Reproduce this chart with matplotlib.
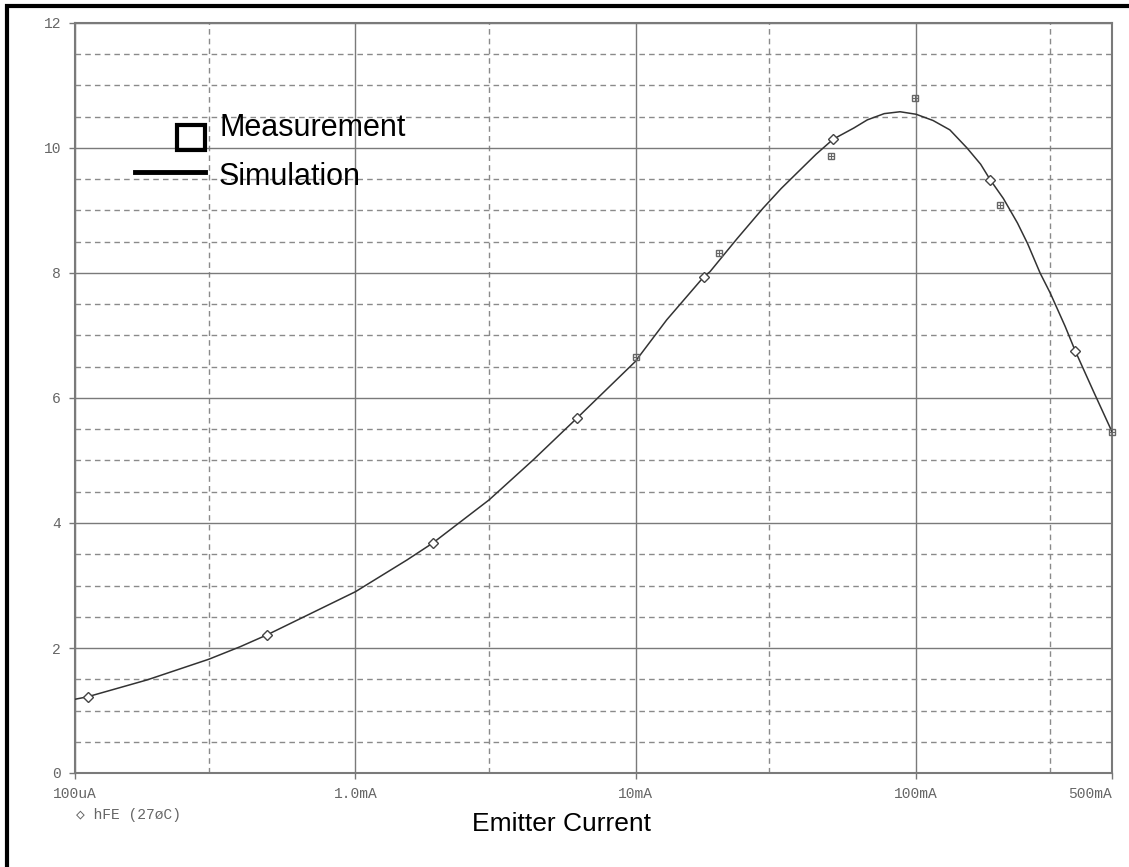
"""hFE vs emitter current: measurement vs simulation."""
import matplotlib
matplotlib.use("Agg")
import matplotlib.pyplot as plt
from matplotlib.patches import Rectangle
from matplotlib.lines import Line2D

# simulated curve (A, hFE)
sim_current = [1.0e-4, 1.11e-4, 1.81e-4, 3.0e-4, 3.88e-4, 4.84e-4, 1.0e-3, 1.53e-3,
               1.89e-3, 3.0e-3, 4.31e-3, 6.18e-3, 9.95e-3, 12.9e-3, 17.5e-3, 18.4e-3,
               23e-3, 28.5e-3, 33e-3, 38.6e-3, 44e-3, 50.6e-3, 60e-3, 67e-3, 77e-3,
               87.7e-3, 100e-3, 115e-3, 132e-3, 152e-3, 170e-3, 184e-3, 205e-3,
               230e-3, 250e-3, 277e-3, 301e-3, 340e-3, 370e-3, 430e-3, 500e-3]
sim_hfe = [1.18, 1.22, 1.49, 1.82, 2.02, 2.21, 2.90, 3.41,
           3.68, 4.37, 5.01, 5.68, 6.58, 7.25, 7.94, 8.02,
           8.55, 9.04, 9.35, 9.65, 9.90, 10.14, 10.32, 10.45, 10.55,
           10.58, 10.54, 10.44, 10.29, 10.0, 9.74, 9.49, 9.19,
           8.80, 8.47, 8.0, 7.68, 7.15, 6.75, 6.10, 5.46]

# diamond markers on the simulated trace
mark_current = [1.11e-4, 4.84e-4, 1.89e-3, 6.18e-3, 17.5e-3, 50.6e-3, 184e-3, 370e-3]
mark_hfe = [1.22, 2.21, 3.68, 5.68, 7.94, 10.14, 9.49, 6.75]

# measured points
meas_current = [10.0e-3, 19.9e-3, 49.8e-3, 99e-3, 200e-3, 500e-3]
meas_hfe = [6.66, 8.32, 9.87, 10.8, 9.09, 5.46]

x_major = [1e-4, 1e-3, 1e-2, 1e-1, 5e-1]
x_labels = ["100uA", "1.0mA", "10mA", "100mA", "500mA"]
x_minor = [3e-4, 3e-3, 3e-2, 3e-1]
y_major = [0, 2, 4, 6, 8, 10, 12]

W, H = 1129, 867
fig = plt.figure(figsize=(W / 100, H / 100), dpi=100)
ax = fig.add_axes([75 / W, (H - 773) / H, (1112 - 75) / W, (773 - 23) / H])

ax.set_xscale("log")
ax.set_xlim(1e-4, 0.5)
ax.set_ylim(0, 12)
ax.set_xticks(x_major)
ax.set_xticklabels(x_labels)
ax.set_xticks(x_minor, minor=True)
ax.set_yticks(y_major)
ax.set_yticks([v / 2 for v in range(1, 24) if v % 4], minor=True)

mono = dict(family="Liberation Mono", size=10.5, color="#666666")
for lab in ax.get_xticklabels() + ax.get_yticklabels():
    lab.set_fontfamily(mono["family"]); lab.set_fontsize(mono["size"]); lab.set_color(mono["color"])
ax.get_xticklabels()[-1].set_horizontalalignment("right")
ax.tick_params(which="major", length=4, width=1, color="#777777", pad=6)
ax.tick_params(which="minor", length=0)
ax.xaxis.set_minor_formatter(plt.NullFormatter())

ax.grid(which="major", color="#7a7a7a", lw=1, ls="-")
ax.grid(which="minor", color="#8a8a8a", lw=1, ls=(0, (4, 3)))
ax.set_axisbelow(True)
for s in ax.spines.values():
    s.set_color("#7a7a7a"); s.set_linewidth(1.5)

ax.plot(sim_current, sim_hfe, color="#333333", lw=1.1, zorder=3)
ax.plot(mark_current, mark_hfe, ls="none", marker="D", ms=5.5, mfc="white",
        mec="#444444", mew=1, zorder=4)
ax.plot(meas_current, meas_hfe, ls="none", marker="s", ms=5, mfc="none",
        mec="#666666", mew=1, zorder=4, clip_on=False)
ax.plot(meas_current, meas_hfe, ls="none", marker="+", ms=5, mec="#666666",
        mew=0.8, zorder=4, clip_on=False)

# hand-drawn legend, in pixel positions
def fx(px):
    return px / W

def fy(py):
    return 1 - py / H

fig.add_artist(Rectangle((fx(177), fy(150)), fx(28), 25 / H, fill=False, lw=3,
                         ec="black", transform=fig.transFigure))
fig.add_artist(Line2D([fx(135), fx(205)], [fy(172), fy(172)], lw=3.5, color="black",
                      transform=fig.transFigure))
fig.text(fx(219), fy(128), "Measurement", family="Liberation Sans", size=22, va="center")
fig.text(fx(219), fy(177), "Simulation", family="Liberation Sans", size=22, va="center")

fig.text(fx(562), fy(824), "Emitter Current", family="Liberation Sans", size=19,
         ha="center", va="center")
fig.text(fx(76), fy(815), "\u25c7 hFE (27\u00f8C)", family=["Liberation Mono", "DejaVu Sans Mono"],
         size=10.5, color="#666666", va="center")

# outer frame (left and top edges show in the crop)
fig.add_artist(Rectangle((fx(7), -0.1), 1.2, fy(6) + 0.1, fill=False, lw=3, ec="black",
                         transform=fig.transFigure))

fig.savefig("out.png", dpi=100)
